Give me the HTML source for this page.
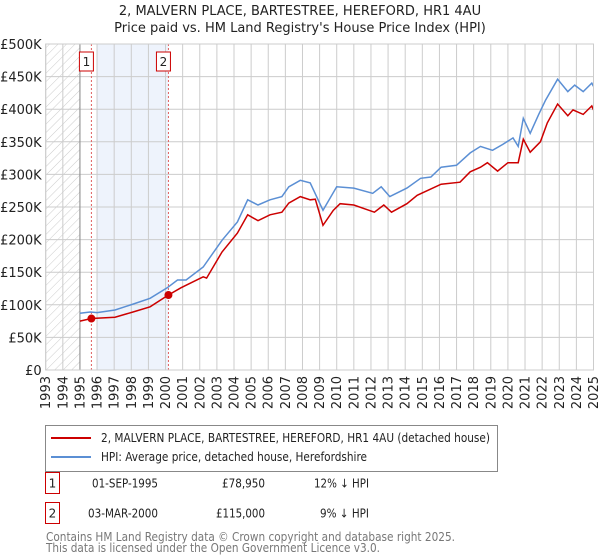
<!DOCTYPE html>
<html><head><meta charset="utf-8"><style>
body{margin:0;background:#fff;font-family:"Liberation Sans","DejaVu Sans",sans-serif;}
#wrap{position:relative;width:600px;height:560px;overflow:hidden}
svg text{font-family:"DejaVu Sans","Liberation Sans",sans-serif;}
</style></head><body><div id="wrap">
<svg id="chart" width="600" height="560"></svg>
</div>
<script>
const blueYears=[1995.0,1995.6,1996.0,1997.05,1998.1,1999.1,2000.1,2000.7,2001.2,2002.2,2003.3,2004.2,2004.8,2005.4,2006.1,2006.8,2007.2,2007.87,2008.45,2009.2,2010.0,2011.0,2012.1,2012.6,2013.1,2014.1,2014.9,2015.5,2016.1,2017.0,2017.8,2018.4,2019.1,2019.7,2020.3,2020.6,2020.9,2021.3,2021.8,2022.2,2022.9,2023.5,2023.9,2024.4,2024.9,2025.0];
const blueValues=[87,89,88,92,101,110,126,138,138,158,199,227,261,253,261,266,281,291,287,245,281,279,271,281,266,279,294,296,311,314,333,343,337,346,356,343,386,363,392,414,446,427,437,427,440,435];
const redYears=[1995.0,1995.67,1997.05,1998.1,1999.1,2000.17,2000.9,2002.2,2002.4,2003.3,2004.2,2004.8,2005.4,2006.1,2006.8,2007.2,2007.87,2008.45,2008.75,2009.2,2009.8,2010.2,2011.0,2012.2,2012.75,2013.2,2014.1,2014.7,2016.1,2017.2,2017.8,2018.4,2018.8,2019.4,2020.0,2020.6,2020.9,2021.3,2021.9,2022.3,2022.9,2023.5,2023.8,2024.4,2024.9,2025.0];
const redValues=[75,78.95,81,89,97,115,126,143,141,181,210,238,229,238,242,256,266,261,262,222,245,255,253,242,253,242,255,268,285,288,304,311,318,305,318,318,354,334,350,379,408,390,399,392,405,399];
const saleYears=[1995.67,2000.17];
const saleValues=[78.95,115];
const saleLabels=["1","2"];
const yTicks=[0,50,100,150,200,250,300,350,400,450,500];
const yTickLabels=["£0","£50K","£100K","£150K","£200K","£250K","£300K","£350K","£400K","£450K","£500K"];
const xTicks=[1993,1994,1995,1996,1997,1998,1999,2000,2001,2002,2003,2004,2005,2006,2007,2008,2009,2010,2011,2012,2013,2014,2015,2016,2017,2018,2019,2020,2021,2022,2023,2024,2025];

const NS="http://www.w3.org/2000/svg";
const svg=document.getElementById('chart');
const L=45.7,R=593.5,T=44,B=370;
const X=y=>L+(y-1993)/(2025-1993)*(R-L);
const Y=v=>B-v/500*(B-T);
function mk(t,a,p){const e=document.createElementNS(NS,t);for(const k in a)e.setAttribute(k,a[k]);(p||svg).appendChild(e);return e;}

const defs=mk('defs',{});
const pat=mk('pattern',{id:'hatch',width:6,height:6,patternUnits:'userSpaceOnUse',patternTransform:'rotate(45)'},defs);
mk('line',{x1:0,y1:0,x2:0,y2:6,stroke:'#ccc','stroke-width':1},pat);

let e;
e=mk('text',{x:300,y:15,'text-anchor':'middle','font-size':13,fill:'#222'});e.textContent="2, MALVERN PLACE, BARTESTREE, HEREFORD, HR1 4AU";

e=mk('text',{x:300,y:32,'text-anchor':'middle','font-size':13,fill:'#222'});e.textContent="Price paid vs. HM Land Registry's House Price Index (HPI)";


e=mk('rect',{x:L,y:T,width:X(1995)-L,height:B-T,fill:'url(#hatch)'});

e=mk('rect',{x:X(saleYears[0])+5,y:T,width:X(saleYears[1])-X(saleYears[0])-5,height:B-T,fill:'#eef3fc'});


xTicks.forEach(t=>{const g=mk('line',{x1:X(t),x2:X(t),y1:T,y2:B,stroke:'#ccc','stroke-width':1});

const lb=mk('text',{transform:`translate(${X(t)+4.5},${B+6}) rotate(-90)`,'text-anchor':'end','font-size':13,fill:'#222'});lb.textContent=t;
});
yTicks.forEach((t,i)=>{const g=mk('line',{x1:L,x2:R,y1:Y(t),y2:Y(t),stroke:'#ccc','stroke-width':1});

const lb=mk('text',{x:L-4,y:Y(t)+5,'text-anchor':'end','font-size':13,fill:'#222'});lb.textContent=yTickLabels[i];
});
e=mk('line',{x1:X(1995),x2:X(1995),y1:T,y2:B,stroke:'#888','stroke-width':1});


saleYears.forEach((s,i)=>{const l=mk('line',{x1:X(s),x2:X(s),y1:T,y2:B,stroke:'#e06060','stroke-width':1,'stroke-dasharray':'2,2'});

const r=mk('rect',{x:X(s)-12,y:T+8,width:14,height:19,fill:'#fff',stroke:'#c00','stroke-width':1});

const t=mk('text',{x:X(s)-5,y:T+22,'text-anchor':'middle','font-size':12,fill:'#222'});t.textContent=saleLabels[i];
});

function path(xs,vs){return xs.map((x,i)=>(i?'L':'M')+X(x).toFixed(1)+','+Y(vs[i]).toFixed(1)).join(' ');}
e=mk('path',{d:path(blueYears,blueValues),fill:'none',stroke:'#5b8fd4','stroke-width':1.5});

e=mk('path',{d:path(redYears,redValues),fill:'none',stroke:'#cc0000','stroke-width':1.5});

saleYears.forEach((s,i)=>{const c=mk('circle',{cx:X(s),cy:Y(saleValues[i]),r:4,fill:'#cc0000'});
});
e=mk('rect',{x:L,y:T,width:R-L,height:B-T,fill:'none',stroke:'#ccc','stroke-width':1});


function fit(el,len){el.setAttribute('textLength',len);el.setAttribute('lengthAdjust','spacingAndGlyphs');}
// legend
e=mk('rect',{x:45.5,y:425.5,width:452,height:46,fill:'#fff',stroke:'#888','stroke-width':1});

e=mk('line',{x1:51,x2:91,y1:438,y2:438,stroke:'#cc0000','stroke-width':2});

e=mk('text',{x:101,y:442,'font-size':12,fill:'#222'});e.textContent="2, MALVERN PLACE, BARTESTREE, HEREFORD, HR1 4AU (detached house)";fit(e,389);

e=mk('line',{x1:51,x2:91,y1:457,y2:457,stroke:'#5b8fd4','stroke-width':2});

e=mk('text',{x:101,y:461,'font-size':12,fill:'#222'});e.textContent="HPI: Average price, detached house, Herefordshire";fit(e,266);


const rows=[["1","01-SEP-1995","£78,950","12% ↓ HPI",483,92,222,314],["2","03-MAR-2000","£115,000","9% ↓ HPI",513,88,216,320]];
rows.forEach(r=>{const b=mk('rect',{x:45.5,y:r[4]-10.5,width:14,height:21,fill:'#fff',stroke:'#c00','stroke-width':1});

const n=mk('text',{x:52.5,y:r[4]+4.5,'text-anchor':'middle','font-size':12,fill:'#222'});n.textContent=r[0];

const d=mk('text',{x:r[5],y:r[4]+4.5,'font-size':12,fill:'#222'});d.textContent=r[1];fit(d,158-r[5]);

const p=mk('text',{x:r[6],y:r[4]+4.5,'font-size':12,fill:'#222'});p.textContent=r[2];fit(p,265-r[6]);

const h=mk('text',{x:r[7],y:r[4]+4.5,'font-size':12,fill:'#222'});h.textContent=r[3];fit(h,369-r[7]);
});
e=mk('text',{x:46,y:541,'font-size':12,fill:'#777'});e.textContent="Contains HM Land Registry data © Crown copyright and database right 2025.";fit(e,409);

e=mk('text',{x:46,y:552,'font-size':12,fill:'#777'});e.textContent="This data is licensed under the Open Government Licence v3.0.";fit(e,334);

</script></body></html>
